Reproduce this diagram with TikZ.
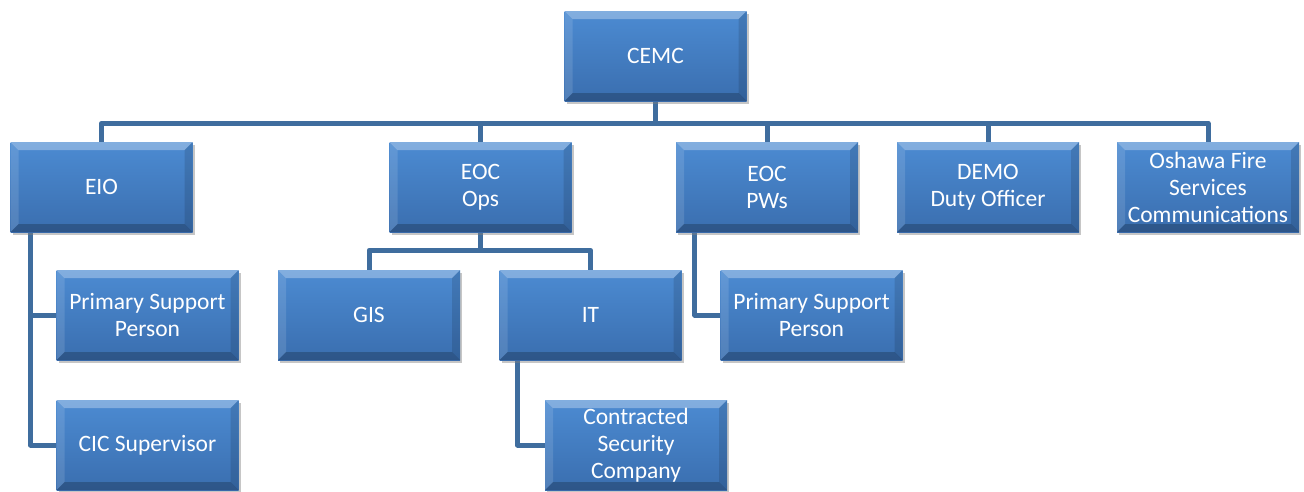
\documentclass[tikz,border=0pt]{standalone}
\usepackage{fontspec}
\setmainfont{Carlito}
\usetikzlibrary{shadows,backgrounds}
\definecolor{boxtop}{HTML}{4C8BD2}
\definecolor{boxbot}{HTML}{3A6EAF}
\definecolor{wire}{HTML}{3F6D9E}
\tikzset{
  orgbox/.style={
    minimum width=182pt, minimum height=90pt, inner sep=0pt,
    align=center, text=white,
    font=\fontsize{23.5}{27}\selectfont,
    top color=boxtop, bottom color=boxbot,
    drop shadow={opacity=0.45, shadow xshift=2pt, shadow yshift=-3pt},
    path picture={
      % bevelled edges: light on top and left, dark on bottom and right
      \fill[white,opacity=0.30]
        (path picture bounding box.north west) -- (path picture bounding box.north east)
        -- ([shift={(-8pt,-8pt)}]path picture bounding box.north east)
        -- ([shift={(8pt,-8pt)}]path picture bounding box.north west) -- cycle;
      \fill[white,opacity=0.12]
        (path picture bounding box.north west) -- ([shift={(8pt,-8pt)}]path picture bounding box.north west)
        -- ([shift={(8pt,8pt)}]path picture bounding box.south west)
        -- (path picture bounding box.south west) -- cycle;
      \fill[black,opacity=0.22]
        (path picture bounding box.south west) -- (path picture bounding box.south east)
        -- ([shift={(-8pt,8pt)}]path picture bounding box.south east)
        -- ([shift={(8pt,8pt)}]path picture bounding box.south west) -- cycle;
      \fill[black,opacity=0.12]
        (path picture bounding box.north east) -- ([shift={(-8pt,-8pt)}]path picture bounding box.north east)
        -- ([shift={(-8pt,8pt)}]path picture bounding box.south east)
        -- (path picture bounding box.south east) -- cycle;
    }},
  link/.style={draw=wire, line width=5pt, line join=round}
}
\begin{document}
\begin{tikzpicture}[x=1pt,y=-1pt]
\useasboundingbox (0,0) rectangle (1304,491);

\node[orgbox] (cemc) at (655.5,56) {CEMC};
\node[orgbox] (eio)  at (101.5,187) {EIO};
\node[orgbox] (ops)  at (480.5,187) {EOC\\Ops};
\node[orgbox] (pws)  at (767,187) {EOC\\PWs};
\node[orgbox] (demo) at (988,187) {DEMO\\Duty Officer};
\node[orgbox] (fire) at (1208,187) {Oshawa Fire\\Services\\Communications};
\node[orgbox] (psp1) at (147.5,315) {Primary Support\\Person};
\node[orgbox] (gis)  at (369,315) {GIS};
\node[orgbox] (it)   at (590.5,315) {IT};
\node[orgbox] (psp2) at (811.5,315) {Primary Support\\Person};
\node[orgbox] (cic)  at (147.5,445) {CIC Supervisor};
\node[orgbox] (sec)  at (636,445) {Contracted\\Security\\Company};

% connectors sit behind the boxes
\begin{scope}[on background layer]
  \foreach \child in {eio,ops,pws,demo,fire}
    \draw[link] (cemc.south) -- ++(0,22) -| (\child.north);
  \draw[link] (ops.south) -- ++(0,18) -| (gis.north);
  \draw[link] (ops.south) -- ++(0,18) -| (it.north);
  \draw[link] ([xshift=20pt]eio.south west) |- (psp1.west);
  \draw[link] ([xshift=20pt]eio.south west) |- (cic.west);
  \draw[link] ([xshift=18pt]it.south west) |- (sec.west);
  \draw[link] ([xshift=19pt]pws.south west) |- (psp2.west);
\end{scope}
\end{tikzpicture}
\end{document}
